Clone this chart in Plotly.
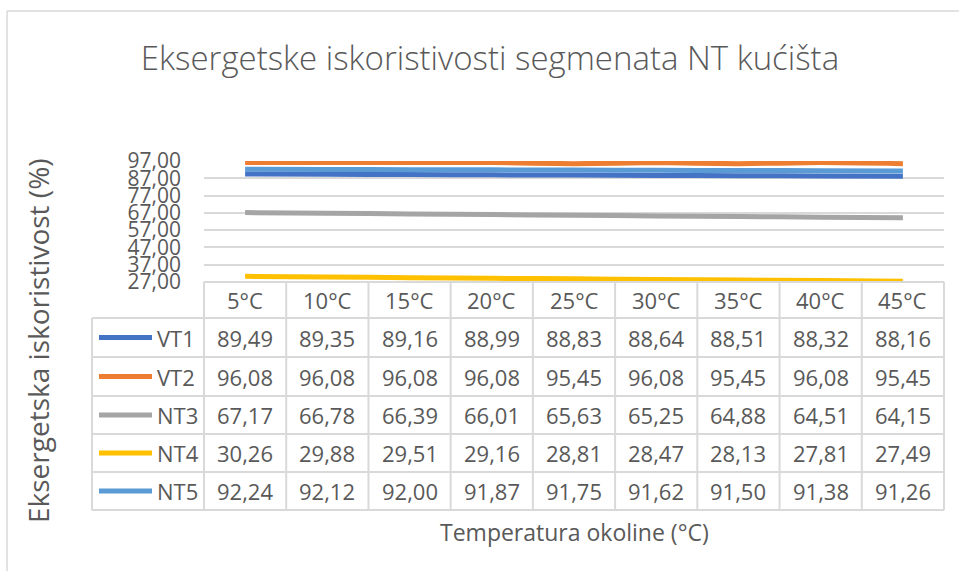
import plotly.graph_objects as go

# --- data ---
categories = ["5°C", "10°C", "15°C", "20°C", "25°C", "30°C", "35°C", "40°C", "45°C"]
series_names = ["VT1", "VT2", "NT3", "NT4", "NT5"]
vt1 = [89.49, 89.35, 89.16, 88.99, 88.83, 88.64, 88.51, 88.32, 88.16]
vt2 = [96.08, 96.08, 96.08, 96.08, 95.45, 96.08, 95.45, 96.08, 95.45]
nt3 = [67.17, 66.78, 66.39, 66.01, 65.63, 65.25, 64.88, 64.51, 64.15]
nt4 = [30.26, 29.88, 29.51, 29.16, 28.81, 28.47, 28.13, 27.81, 27.49]
nt5 = [92.24, 92.12, 92.00, 91.87, 91.75, 91.62, 91.50, 91.38, 91.26]
y_ticks = [27, 37, 47, 57, 67, 77, 87, 97]

series_values = [vt1, vt2, nt3, nt4, nt5]
colors = ["#4472C4", "#ED7D31", "#A5A5A5", "#FFC000", "#5B9BD5"]

# --- figure geometry (pixels) ---
W, H = 959, 571
PL, PR = 204, 944          # plot area left/right
PT, PB = 161, 282          # plot area top/bottom
ML, MR, MT, MB = PL, W - PR, PT, H - PB
plot_w = PR - PL
plot_h = PB - PT

TEXT = "#595959"
GRID = "#D9D9D9"
FONT = "Open Sans, Noto Sans, sans-serif"
FS = 22


def px_x(x):
    return (x - PL) / plot_w


def px_y(y):
    return (PB - y) / plot_h


fig = go.Figure()
n = len(categories)
for name, vals, col in zip(series_names, series_values, colors):
    fig.add_trace(go.Scatter(
        x=list(range(n)), y=vals, name=name, mode="lines",
        line=dict(color=col, width=5, shape="spline", smoothing=0.6),
        showlegend=False, hoverinfo="skip",
    ))

shapes = []
annotations = []

# --- data table under the plot ---
col_w = 1.0 / n
header_top = PB
header_bot = 318
row_edges = [318, 357, 396, 434, 472, 510]
legend_left = 92

line_style = dict(color=GRID, width=2)

# vertical lines of the data columns
for i in range(n + 1):
    shapes.append(dict(type="line", xref="paper", yref="paper",
                       x0=i * col_w, x1=i * col_w,
                       y0=px_y(header_top), y1=px_y(row_edges[-1]),
                       line=line_style))
# legend column left border
shapes.append(dict(type="line", xref="paper", yref="paper",
                   x0=px_x(legend_left), x1=px_x(legend_left),
                   y0=px_y(row_edges[0]), y1=px_y(row_edges[-1]),
                   line=line_style))
# header top line (data columns only)
shapes.append(dict(type="line", xref="paper", yref="paper",
                   x0=0, x1=1, y0=px_y(header_top), y1=px_y(header_top),
                   line=line_style))
# row separators (full width incl. legend column)
for y in row_edges:
    shapes.append(dict(type="line", xref="paper", yref="paper",
                       x0=px_x(legend_left), x1=1, y0=px_y(y), y1=px_y(y),
                       line=line_style))

# header labels
for i, c in enumerate(categories):
    annotations.append(dict(text=c, xref="paper", yref="paper",
                            x=(i + 0.5) * col_w,
                            y=px_y((header_top + header_bot) / 2),
                            showarrow=False, xanchor="center", yanchor="middle",
                            font=dict(family=FONT, size=FS, color=TEXT)))

# row cells + legend keys
for r, (name, vals, col) in enumerate(zip(series_names, series_values, colors)):
    yc = (row_edges[r] + row_edges[r + 1]) / 2
    shapes.append(dict(type="line", xref="paper", yref="paper",
                       x0=px_x(99), x1=px_x(152), y0=px_y(yc), y1=px_y(yc),
                       line=dict(color=col, width=5)))
    annotations.append(dict(text=name, xref="paper", yref="paper",
                            x=px_x(155), y=px_y(yc),
                            showarrow=False, xanchor="left", yanchor="middle",
                            font=dict(family=FONT, size=FS, color=TEXT)))
    for i, v in enumerate(vals):
        annotations.append(dict(text=f"{v:.2f}".replace(".", ","),
                                xref="paper", yref="paper",
                                x=(i + 0.5) * col_w, y=px_y(yc),
                                showarrow=False, xanchor="center", yanchor="middle",
                                font=dict(family=FONT, size=FS, color=TEXT)))

# axis titles
annotations.append(dict(text="Temperatura okoline (°C)", xref="paper", yref="paper",
                        x=0.5, y=px_y(532), showarrow=False,
                        xanchor="center", yanchor="middle",
                        font=dict(family=FONT, size=23, color=TEXT)))
annotations.append(dict(text="Eksergetska iskoristivost (%)", xref="paper", yref="paper",
                        x=px_x(38), y=px_y(341), showarrow=False, textangle=-90,
                        xanchor="center", yanchor="middle",
                        font=dict(family=FONT, size=28, color=TEXT)))

# outer chart frame (left and top edges)
shapes.append(dict(type="line", xref="paper", yref="paper",
                   x0=px_x(7), x1=px_x(7), y0=px_y(11), y1=px_y(H),
                   line=dict(color=GRID, width=1.5)))
shapes.append(dict(type="line", xref="paper", yref="paper",
                   x0=px_x(7), x1=px_x(W), y0=px_y(11), y1=px_y(11),
                   line=dict(color=GRID, width=1.5)))

fig.update_layout(
    width=W, height=H,
    margin=dict(l=ML, r=MR, t=MT, b=MB, pad=0),
    paper_bgcolor="white", plot_bgcolor="white",
    separators=",.",
    title=dict(text="Eksergetske iskoristivosti segmenata NT kućišta",
               x=px_x(490), xref="paper", xanchor="center",
               y=1 - 58 / H, yanchor="middle",
               font=dict(family=FONT, size=33, color=TEXT, weight=300)),
    xaxis=dict(range=[-0.5, n - 0.5], showgrid=False, zeroline=False,
               showticklabels=False, showline=False, fixedrange=True),
    yaxis=dict(range=[y_ticks[0], y_ticks[-1]], tickvals=y_ticks, tickformat=".2f",
               showgrid=True, gridcolor=GRID, gridwidth=1.5, zeroline=False,
               showline=False, ticks="", ticklabelstandoff=22,
               tickfont=dict(family=FONT, size=21, color=TEXT), fixedrange=True),
    shapes=shapes,
    annotations=annotations,
)

fig.write_html("out.html")
